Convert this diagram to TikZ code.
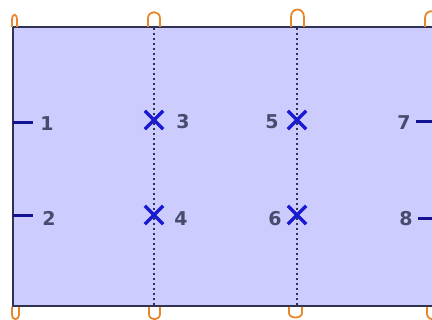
\documentclass[tikz,border=0pt]{standalone}
\usepackage{fontspec}
\setmainfont{DejaVu Sans}
\usepackage{tikz}
\usetikzlibrary{shapes.misc}

\definecolor{plate}{RGB}{204,204,255}
\definecolor{rim}{RGB}{48,50,82}
\definecolor{digit}{RGB}{74,74,108}
\definecolor{hook}{RGB}{232,135,42}
\definecolor{cross}{RGB}{26,26,210}

\begin{document}
\begin{tikzpicture}[x=1pt,y=-1pt,
    lbl/.style={font=\fontsize{19}{19}\selectfont\bfseries,text=digit,inner sep=0pt},
    xmark/.style={cross out,draw=cross,line width=3.3pt,minimum size=15pt,inner sep=0pt},
    tick/.style={draw=cross!70!black,line width=3pt},
    hk/.style={draw=hook,line width=1.8pt}]
      \clip (0,0) rectangle (432,320);
      \useasboundingbox (0,0) rectangle (432,320);
      \fill[white] (0,0) rectangle (432,320);
      \filldraw[fill=plate,draw=rim,line width=2pt] (13,27) rectangle (450,306);
      % dotted lines
      \foreach \x in {154,297}{
        \draw[rim,line width=1.6pt,dash pattern=on 1.6pt off 3.4pt] (\x,28) -- (\x,305);
      }
      % hooks
      \foreach \a/\b/\h in {12/17/14,148/160/17,291/304/20,425/438/18}{
        \draw[hk] (\a,27) -- (\a,27-\h/2) .. controls (\a,27-\h) and (\b,27-\h) .. (\b,27-\h/2) -- (\b,27);
      }
      \foreach \a/\b/\h in {12/19/14,149/160/14,289/302/12,427/440/14}{
        \draw[hk] (\a,307) -- (\a,307+\h/2) .. controls (\a,307+\h) and (\b,307+\h) .. (\b,307+\h/2) -- (\b,307);
      }
      % edge ticks
      \coordinate (e1) at (13,123);
      \coordinate (e2) at (13,216);
      \coordinate (e7) at (432,122);
      \coordinate (e8) at (432,219);
      \draw[tick] (e1) -- ++(20,0);
      \draw[tick] (e2) -- ++(20,0);
      \draw[tick] (e7) -- ++(-16,0);
      \draw[tick] (e8) -- ++(-14,0);
      \node[lbl] (n1) at (47,124) {1};
      \node[lbl] (n2) at (49,218) {2};
      \node[lbl] (n7) at (404,123) {7};
      \node[lbl] (n8) at (406,219) {8};
      % crosses
      \node[xmark] (c3) at (154,120) {};
      \node[xmark] (c4) at (154,215) {};
      \node[xmark] (c5) at (297,120) {};
      \node[xmark] (c6) at (297,215) {};
      \node[lbl] (n3) at (183,122) {3};
      \node[lbl] (n4) at (181,219) {4};
      \node[lbl] (n5) at (272,122) {5};
      \node[lbl] (n6) at (275,219) {6};
    \end{tikzpicture}
\end{document}
